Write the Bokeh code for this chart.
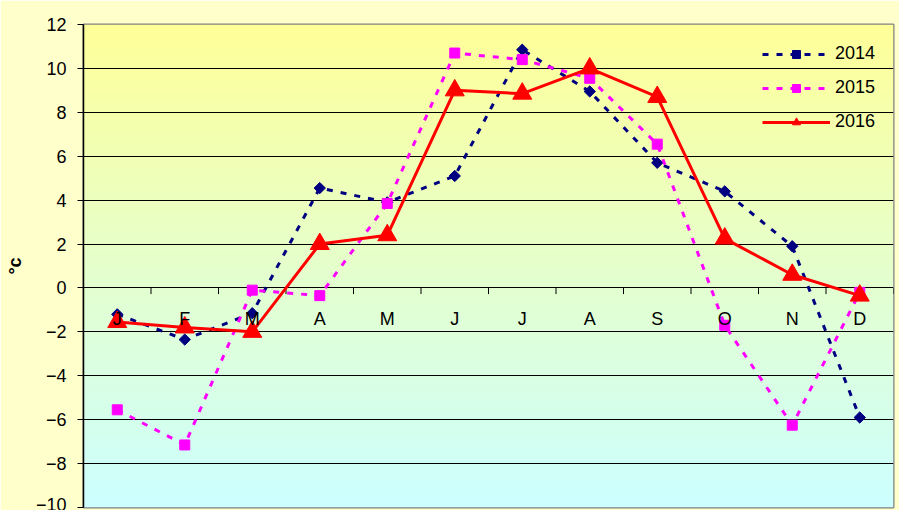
import numpy as np
from bokeh.plotting import figure
from bokeh.models import Range1d, FixedTicker, ColumnDataSource
from bokeh.core.properties import value
from bokeh.embed import file_html
from bokeh.resources import INLINE

months = ["J", "F", "M", "A", "M", "J", "J", "A", "S", "O", "N", "D"]
t2014 = [-1.2, -2.35, -1.15, 4.55, 3.9, 5.1, 10.85, 8.95, 5.7, 4.4, 1.9, -5.9]
t2015 = [-5.55, -7.15, -0.1, -0.35, 3.85, 10.7, 10.4, 9.55, 6.55, -1.7, -6.25, -0.2]
t2016 = [-1.55, -1.8, -2.0, 2.0, 2.4, 9.0, 8.85, 10.0, 8.7, 2.25, 0.6, -0.35]
y_ticks = list(range(-10, 13, 2))

FONT = "Liberation Sans"
x = list(range(len(months)))

p = figure(width=899, height=510, output_backend="svg", toolbar_location=None,
           x_range=Range1d(-0.5, 11.5), y_range=Range1d(-10, 12),
           x_axis_location=None, min_border_left=83, min_border_right=6,
           min_border_top=24, min_border_bottom=3)
p.border_fill_color = "#FFFFCC"
p.outline_line_color = "#808080"
p.outline_line_width = 2

# background gradient (yellow top -> pale cyan bottom)
n = 256
img = np.empty((n, 1), dtype=np.uint32)
view = img.view(dtype=np.uint8).reshape((n, 1, 4))
t = np.linspace(0, 1, n)  # 0 bottom, 1 top
top = np.array([255, 255, 153])
bot = np.array([204, 255, 255])
for i in range(n):
    c = bot + (top - bot) * t[i]
    view[i, 0, 0:3] = c.astype(np.uint8)
    view[i, 0, 3] = 255
p.image_rgba(image=[img], x=-0.5, y=-10, dw=12, dh=22, level="image")

# y axis
p.yaxis.ticker = FixedTicker(ticks=y_ticks)
p.yaxis.major_tick_out = 6
p.yaxis.major_tick_in = 0
p.yaxis.minor_tick_line_color = None
p.yaxis.axis_line_color = "black"
p.yaxis.axis_line_width = 1.5
p.yaxis.major_tick_line_color = "black"
p.yaxis.major_label_text_font = FONT
p.yaxis.major_label_text_font_size = "18px"
p.yaxis.major_label_text_color = "black"
p.yaxis.major_label_standoff = 11
p.yaxis.axis_label = "°c"
p.yaxis.axis_label_text_font = FONT
p.yaxis.axis_label_text_font_size = "18px"
p.yaxis.axis_label_text_font_style = "bold"
p.yaxis.axis_label_text_color = "black"
p.yaxis.axis_label_standoff = 8

p.xgrid.visible = False
p.ygrid.ticker = FixedTicker(ticks=y_ticks)
p.ygrid.grid_line_color = "black"
p.ygrid.grid_line_width = 1

# category ticks on the zero line
bounds = np.arange(-0.5, 12.0, 1.0)
p.segment(x0=bounds, y0=np.zeros_like(bounds), x1=bounds,
          y1=np.full_like(bounds, -0.28), line_color="black", line_width=1)

# series
p.line(x, t2014, line_color="#000080", line_width=3, line_dash="6 8", legend_label="2014")
p.scatter(x, t2014, marker="square", angle=np.pi / 4, size=8, fill_color="#000080",
          line_color="#000080", legend_label="2014")
p.line(x, t2015, line_color="#FF00FF", line_width=3, line_dash="6 8", legend_label="2015")
p.scatter(x, t2015, marker="square", size=10, fill_color="#FF00FF",
          line_color="#FF00FF", legend_label="2015")
p.line(x, t2016, line_color="#FF0000", line_width=3, legend_label="2016")
p.scatter(x, t2016, marker="triangle", size=19, fill_color="#FF0000",
          line_color="#FF0000", legend_label="2016")

# month labels below the zero line
src = ColumnDataSource(dict(x=x, y=[0] * len(months), t=months))
p.text(x="x", y="y", text="t", source=src, y_offset=31, text_align="center",
       text_baseline="middle", text_font=value(FONT), text_font_size="18px",
       text_color="black")

leg = p.legend[0]
leg.location = (679, 375)
leg.border_line_color = None
leg.background_fill_alpha = 0
leg.padding = 5
leg.margin = 0
leg.glyph_width = 68
leg.glyph_height = 20
leg.label_height = 20
leg.spacing = 13
leg.label_standoff = 5
leg.label_text_font = FONT
leg.label_text_font_size = "18px"
leg.label_text_color = "black"

open("out.html", "w").write(file_html(p, INLINE))
